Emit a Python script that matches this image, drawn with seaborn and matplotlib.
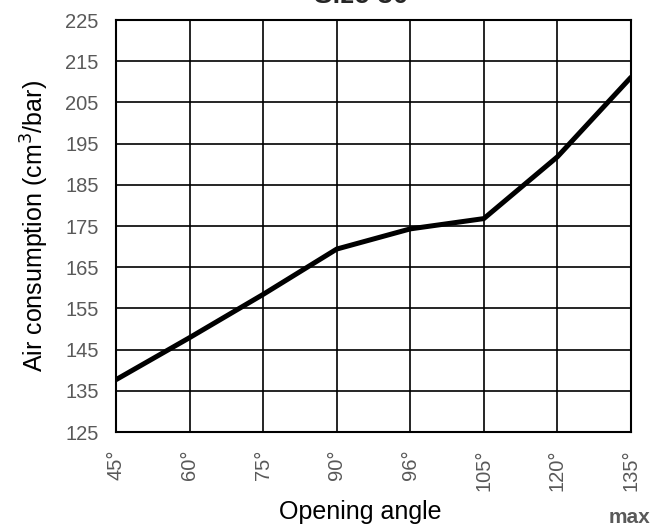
import pandas as pd
import numpy as np
import matplotlib
matplotlib.use("Agg")
import matplotlib.pyplot as plt
import seaborn as sns

sns.set_style("white")
plt.rcParams['font.family'] = ['Liberation Sans', 'DejaVu Sans']

angles = ['45°', '60°', '75°', '90°', '96°', '105°', '120°', '135°']
air = [137.7, 147.9, 158.4, 169.4, 174.3, 176.8, 191.8, 211.1]
yticks = [125, 135, 145, 155, 165, 175, 185, 195, 205, 215, 225]

df = pd.DataFrame({'angle': angles, 'air': air})

fig = plt.figure(figsize=(6.66, 5.31), dpi=100)
ax = fig.add_axes([116/666, 99/531, 515/666, 412/531])

sns.lineplot(data=df, x='angle', y='air', color='black', linewidth=3.6, ax=ax, sort=False)

ax.set_xlim(0, len(angles) - 1)
ax.set_ylim(125, 225)
ax.set_yticks(yticks)
ax.set_xticks(range(len(angles)))
ax.set_xticklabels(angles, rotation=90)
ax.grid(True, color='black', linewidth=1.2)
ax.set_axisbelow(True)
for s in ax.spines.values():
    s.set_color('black')
    s.set_linewidth(1.5)
ax.tick_params(axis='both', direction='inout', length=11, width=1.5, color='black',
               labelsize=14.5, labelcolor='#595959', pad=7)

ax.set_xlabel('Opening angle', fontsize=18, color='black', labelpad=4)
ax.xaxis.set_label_coords(0.474, -0.165)
ax.set_ylabel('Air consumption (cm$^3$/bar)', fontsize=18, color='black', labelpad=10)

fig.text(0.542, 1 - 3/531, 'Size 30', ha='center', va='baseline', fontsize=20, fontweight='bold')
fig.text(0.976, 8/531, 'max', ha='right', va='baseline', fontsize=15, fontweight='bold', color='#595959')

plt.savefig('out.png', dpi=100)
